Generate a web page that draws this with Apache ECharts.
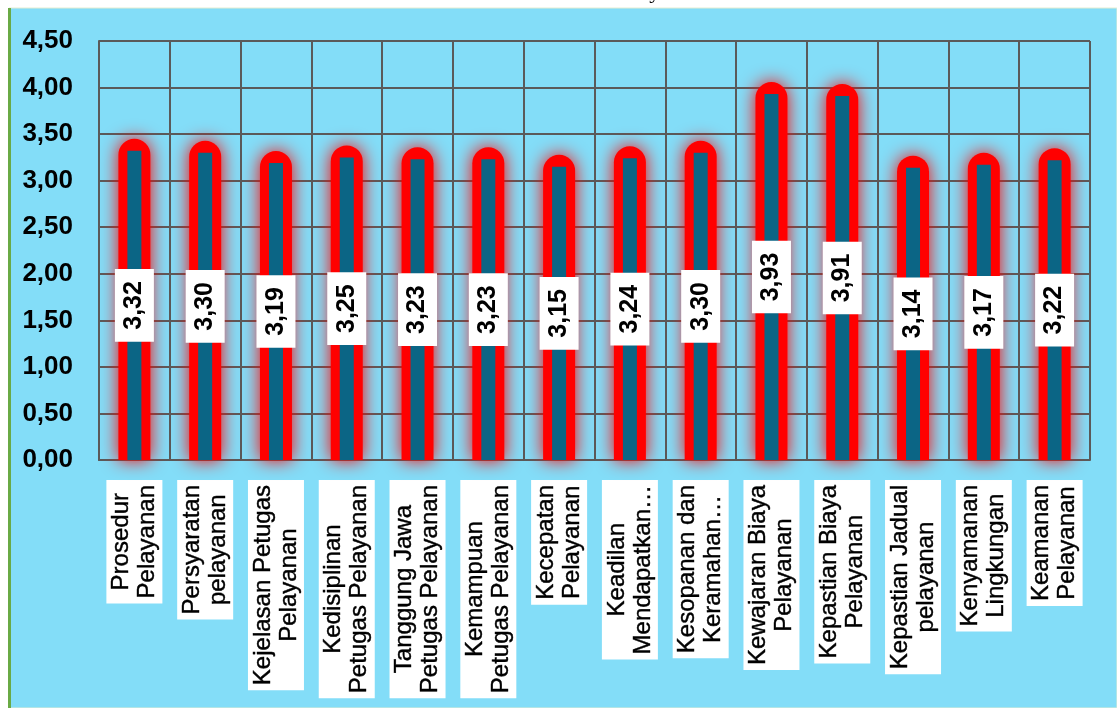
<!DOCTYPE html>
<html>
<head>
<meta charset="utf-8">
<script src="https://cdn.jsdelivr.net/npm/echarts@6/dist/echarts.min.js"></script>
<style>
html,body{margin:0;padding:0;background:#fff;}
#chart{width:1117px;height:708px;}
</style>
</head>
<body>
<div id="chart"></div>
<script>
const titleText = 'Grafik Nilai Rata-rata Per Unsur Pelayanan Tahun 2019';
const categories = [
  'Prosedur\nPelayanan',
  'Persyaratan\npelayanan',
  'Kejelasan Petugas\nPelayanan',
  'Kedisiplinan\nPetugas Pelayanan',
  'Tanggung Jawa\nPetugas Pelayanan',
  'Kemampuan\nPetugas Pelayanan',
  'Kecepatan\nPelayanan',
  'Keadilan\nMendapatkan…',
  'Kesopanan dan\nKeramahan…',
  'Kewajaran Biaya\nPelayanan',
  'Kepastian Biaya\nPelayanan',
  'Kepastian Jadual\npelayanan',
  'Kenyamanan\nLingkungan',
  'Keamanan\nPelayanan'
];
const values = [3.32, 3.30, 3.19, 3.25, 3.23, 3.23, 3.15, 3.24, 3.30, 3.93, 3.91, 3.14, 3.17, 3.22];
const yTicks = { min: 0, max: 4.5, interval: 0.5 };

const fmt = v => v.toFixed(2).replace('.', ',');
const chart = echarts.init(document.getElementById('chart'), null, { renderer: 'canvas' });

const option = {
  animation: false,
  backgroundColor: '#ffffff',
  graphic: [
    { type: 'rect', z: -10, shape: { x: 9, y: 8, width: 1108, height: 700 },
      style: { fill: '#83ddf8', stroke: '#e4ecd2', lineWidth: 1 } },
    { type: 'rect', z: -9, shape: { x: 8, y: 8, width: 3, height: 700 },
      style: { fill: '#6aaa45' } },
    { type: 'text', z: -11, x: 565, y: 3,
      style: { text: titleText, font: '22px "Liberation Serif"', fill: '#000',
               align: 'center', verticalAlign: 'bottom' } }
  ],
  grid: { left: 99, right: 27, top: 41, bottom: 248, containLabel: false },
  xAxis: {
    type: 'category',
    data: categories,
    boundaryGap: true,
    axisLine: { show: true, lineStyle: { color: '#5a5a5a', width: 2 } },
    axisTick: { show: false },
    splitLine: { show: true, interval: 0, lineStyle: { color: '#5a5a5a', width: 2 } },
    axisLabel: {
      interval: 0,
      rotate: 90,
      margin: 20,
      backgroundColor: '#ffffff',
      padding: [2, 5],
      formatter: function (v) {
        return v.split('\n').map(s => '{a|' + s + '}').join('\n');
      },
      rich: {
        a: { align: 'center', fontSize: 24, lineHeight: 26, color: '#000',
             fontFamily: 'Liberation Sans, Arial, sans-serif',
             textBorderColor: '#000', textBorderWidth: 0.4 }
      }
    }
  },
  yAxis: {
    type: 'value',
    min: yTicks.min, max: yTicks.max, interval: yTicks.interval,
    axisLine: { show: true, lineStyle: { color: '#5a5a5a', width: 2 } },
    axisTick: { show: false },
    splitLine: { show: true, lineStyle: { color: '#5a5a5a', width: 2 } },
    axisLabel: {
      margin: 26,
      formatter: fmt,
      fontSize: 26, fontWeight: 'bold', color: '#000',
      fontFamily: 'Liberation Sans, Arial, sans-serif'
    }
  },
  series: [
    {
      type: 'custom',
      z: 2,
      silent: true,
      data: values,
      renderItem: function (params, api) {
        const top = api.coord([api.value(0), api.value(1)]);
        const base = api.coord([api.value(0), 0]);
        const w = 32, ext = 12;
        return {
          type: 'rect',
          shape: { x: top[0] - w / 2, y: top[1] - ext, width: w, height: base[1] - top[1] + ext, r: [16, 16, 0, 0] },
          style: { fill: '#ff0000', shadowBlur: 18, shadowColor: '#ff0000' }
        };
      },
      encode: { x: 0, y: 1 }
    },
    {
      type: 'bar',
      z: 3,
      data: values,
      barWidth: 14,
      barGap: '-100%',
      itemStyle: { color: '#0b6585' },
      label: {
        show: true,
        position: 'inside',
        rotate: 90,
        formatter: p => fmt(p.value),
        backgroundColor: '#ffffff',
        padding: [7, 12, 5, 12],
        fontSize: 25, fontWeight: 'bold', color: '#000', lineHeight: 27,
        fontFamily: 'Liberation Sans, Arial, sans-serif'
      }
    }
  ]
};
chart.setOption(option);
</script>
</body>
</html>
